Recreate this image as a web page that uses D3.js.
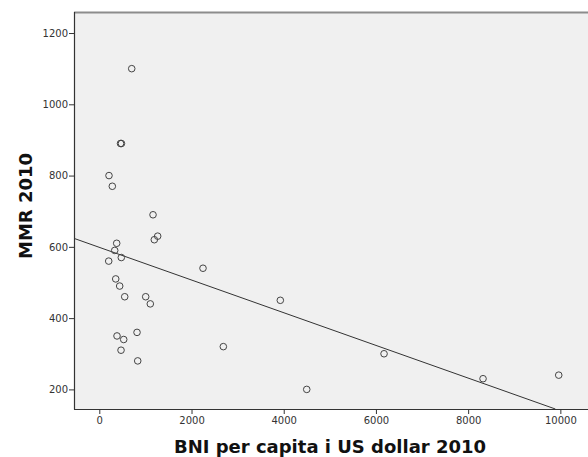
<!DOCTYPE html>
<html>
<head>
<meta charset="utf-8">
<script src="https://cdn.jsdelivr.net/npm/d3@7/dist/d3.min.js"></script>
<style>
  html, body { margin: 0; padding: 0; background: #fff; }
  svg { display: block; }
</style>
</head>
<body>
<svg id="chart" width="588" height="457"></svg>
<script>
// GNI per capita (US$, 2010) and maternal mortality ratio (2010) per country
const gni = [703, 460, 480, 210, 282, 1165, 1266, 1193, 377, 334, 477, 204, 2249, 356, 442,
             551, 1006, 1106, 3926, 818, 384, 529, 471, 2690, 833, 6176, 8323, 9965, 4499];
const mmr = [1100, 890, 890, 800, 770, 690, 630, 620, 610, 590, 570, 560, 540, 510, 490,
             460, 460, 440, 450, 360, 350, 340, 310, 320, 280, 300, 230, 240, 200];

const xTicks = [0, 2000, 4000, 6000, 8000, 10000];
const yTicks = [200, 400, 600, 800, 1000, 1200];
const xTitle = "BNI per capita i US dollar 2010";
const yTitle = "MMR 2010";

const svg = d3.select("#chart");
const plotL = 74, plotT = 12, plotR = 600, plotB = 409;

const x = d3.scaleLinear().domain([-549, 10860]).range([plotL, plotR]);
const y = d3.scaleLinear().domain([145, 1259]).range([plotB, plotT]);

// plot background
svg.append("rect")
  .attr("x", plotL).attr("y", plotT)
  .attr("width", plotR - plotL).attr("height", plotB - plotT)
  .attr("fill", "#f0f0f0");

// top frame line
svg.append("line")
  .attr("x1", plotL).attr("x2", plotR)
  .attr("y1", plotT + 0.5).attr("y2", plotT + 0.5)
  .attr("stroke", "#8c8c8c").attr("stroke-width", 2);

const tickFont = "DejaVu Sans, sans-serif";

const xAxis = svg.append("g")
  .attr("transform", `translate(0,${plotB})`)
  .call(d3.axisBottom(x).tickValues(xTicks).tickSize(5).tickPadding(3).tickFormat(d3.format("d")));
const yAxis = svg.append("g")
  .attr("transform", `translate(${plotL},0)`)
  .call(d3.axisLeft(y).tickValues(yTicks).tickSize(5).tickPadding(1).tickFormat(d3.format("d")));

[xAxis, yAxis].forEach(g => {
  g.select(".domain").attr("stroke", "#333").attr("stroke-width", 1.2);
  g.selectAll(".tick line").attr("stroke", "#333");
  g.selectAll(".tick text")
    .attr("fill", "#333")
    .style("font-family", tickFont)
    .style("font-size", "10px");
});
yAxis.select(".domain").attr("d", `M0.5,${plotT}V${plotB + 0.5}`);
xAxis.select(".domain").attr("d", `M${plotL},0.5H${plotR}`);

// least-squares fit line
const n = gni.length;
const mx = d3.mean(gni), my = d3.mean(mmr);
let sxy = 0, sxx = 0;
for (let i = 0; i < n; i++) {
  sxy += (gni[i] - mx) * (mmr[i] - my);
  sxx += (gni[i] - mx) * (gni[i] - mx);
}
const slope = sxy / sxx, intercept = my - slope * mx;
const x0 = x.domain()[0];
const xEnd = (y.domain()[0] - intercept) / slope;
svg.append("line")
  .attr("x1", x(x0)).attr("y1", y(intercept + slope * x0))
  .attr("x2", x(xEnd)).attr("y2", y(intercept + slope * xEnd))
  .attr("stroke", "#333").attr("stroke-width", 1);

// data points
svg.append("g")
  .selectAll("circle")
  .data(gni.map((g, i) => [g, mmr[i]]))
  .join("circle")
  .attr("cx", d => x(d[0]))
  .attr("cy", d => y(d[1]))
  .attr("r", 3.3)
  .attr("fill", "none")
  .attr("stroke", "#444")
  .attr("stroke-width", 1);

// axis titles
svg.append("text")
  .attr("x", 330).attr("y", 453)
  .attr("text-anchor", "middle")
  .style("font-family", "DejaVu Sans, sans-serif")
  .style("font-weight", "bold")
  .style("font-size", "18px")
  .attr("fill", "#111")
  .text(xTitle);

svg.append("text")
  .attr("transform", "translate(31.5,206) rotate(-90)")
  .attr("text-anchor", "middle")
  .style("font-family", "DejaVu Sans, sans-serif")
  .style("font-weight", "bold")
  .style("font-size", "18px")
  .attr("fill", "#111")
  .text(yTitle);
</script>
</body>
</html>
